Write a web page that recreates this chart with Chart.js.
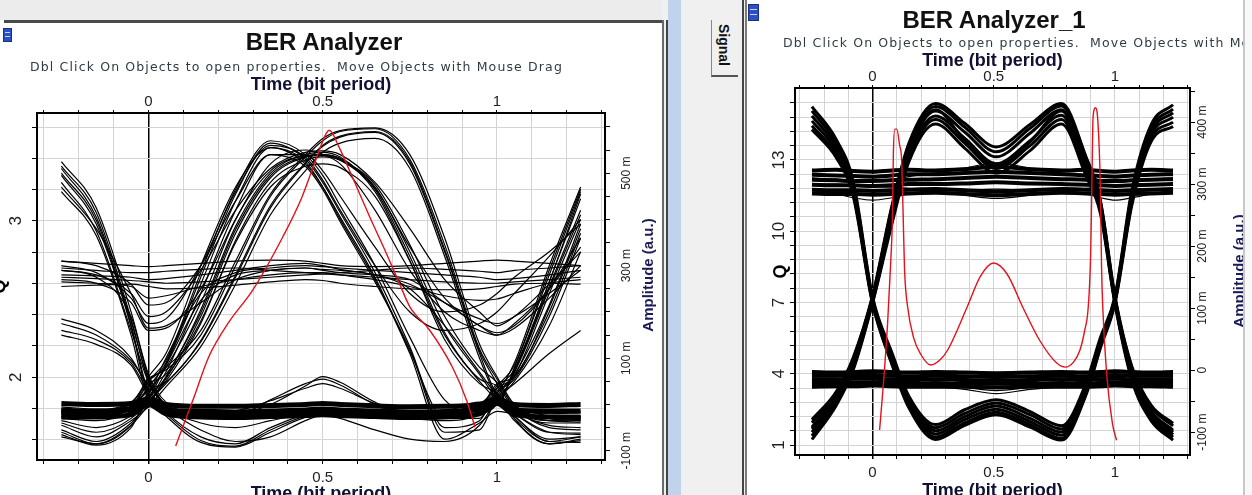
<!DOCTYPE html>
<html>
<head>
<meta charset="utf-8">
<title>BER Analyzer eye diagrams</title>
<script src="https://cdn.jsdelivr.net/npm/chart.js@4.4.1/dist/chart.umd.min.js"></script>
<style>
  html, body { margin: 0; padding: 0; }
  body { width: 1252px; height: 495px; overflow: hidden; position: relative; background: #f0f0f0;
         font-family: "Liberation Sans", Arial, sans-serif; }
  .abs { position: absolute; }
  .panel { position: absolute; top: 0; height: 495px; background: #fff; overflow: hidden; }
  #leftPanel { left: 0; width: 662px; }
  #rightPanel { left: 747px; width: 496px; }
  .title { position: absolute; font-weight: bold; font-size: 24px; line-height: 24px; color: #111;
           white-space: nowrap; transform: translateX(-50%); }
  .sub { position: absolute; font-family: "DejaVu Sans", Verdana, sans-serif; font-size: 12.5px; line-height: 13px;
         letter-spacing: 1.3px; color: #2e3d45; white-space: pre; }
  .vtitle { position: absolute; font-weight: bold; font-size: 15px; color: #1b1b55; white-space: nowrap;
            transform: translate(-50%, -50%) rotate(-90deg); }
  .icon { position: absolute; background: #2c4fc4; border: 1px solid #1a2f80; }
  .icon i { position: absolute; left: 1px; right: 1px; height: 1px; background: #c8d4ff; }
  canvas { position: absolute; top: 0; }
</style>
</head>
<body>
<div class="panel" id="leftPanel">
  <div class="abs" style="left:0;top:0;width:662px;height:20px;background:#ececec"></div>
  <div class="abs" style="left:4px;top:20px;width:658px;height:3px;background:#4a4a4a"></div>
  <div class="icon" style="left:3px;top:28px;width:7px;height:12px"><i style="top:3px"></i><i style="top:7px"></i></div>
  <canvas id="leftEye" width="680" height="520" style="left:-12px"></canvas>
  <div class="title" style="left:324px;top:30px">BER Analyzer</div>
  <div class="sub" style="left:30px;top:60px">Dbl Click On Objects to open properties.  Move Objects with Mouse Drag</div>
  <div class="vtitle" style="left:647px;top:275px">Amplitude (a.u.)</div>
</div>
<div class="abs" style="left:662px;top:20px;width:2px;height:475px;background:#6a6a6a"></div>
<div class="abs" style="left:666px;top:20px;width:2px;height:475px;background:#444"></div>
<div class="abs" style="left:668px;top:0;width:13px;height:495px;background:#bfd4ec"></div>
<div class="abs" style="left:711px;top:20px;width:26px;height:55px;border-left:1px solid #888;border-bottom:2px solid #555"></div>
<div class="abs" style="left:724px;top:45px;font-weight:bold;font-size:14px;color:#111;transform:translate(-50%,-50%) rotate(90deg);white-space:nowrap">Signal</div>
<div class="abs" style="left:742px;top:0;width:2px;height:495px;background:#444"></div>
<div class="abs" style="left:745px;top:0;width:2px;height:495px;background:#7a7a7a"></div>
<div class="panel" id="rightPanel">
  <div class="icon" style="left:1px;top:4px;width:9px;height:15px"><i style="top:4px"></i><i style="top:9px"></i></div>
  <canvas id="rightEye" width="498" height="520" style="left:-2px"></canvas>
  <div class="title" style="left:247px;top:8px">BER Analyzer_1</div>
  <div class="sub" style="left:36px;top:36px">Dbl Click On Objects to open properties.  Move Objects with Mouse Drag</div>
  <div class="vtitle" style="left:491px;top:271px">Amplitude (a.u.)</div>
</div>
<div class="abs" style="left:1243px;top:0;width:2px;height:495px;background:#c8c8c8"></div>
<div class="abs" style="left:1245px;top:0;width:7px;height:495px;background:#f8f8f8"></div>

<script>
// time axis (bit period), shared by both panels
const timeTicks = [-0.3, -0.2, -0.1, 0, 0.1, 0.2, 0.3, 0.4, 0.5, 0.6, 0.7, 0.8, 0.9, 1, 1.1, 1.2, 1.3];
const timeLabels = [0, 0.5, 1];

// ---- left panel: BER Analyzer ----
const leftQTicks = [1.6, 1.8, 2, 2.2, 2.4, 2.6, 2.8, 3, 3.2, 3.4, 3.6];
const leftQLabels = [2, 3];
const leftAmpTicks = [-100, -50, 0, 50, 100, 150, 200, 250, 300, 350, 400, 450, 500, 550, 600];
const leftAmpLabels = [-100, 100, 300, 500];

// sample times of every black trace (amplitude in m a.u.)
const leftTime = [-0.25, -0.15, -0.05, 0, 0.05, 0.15, 0.25, 0.35, 0.45, 0.5, 0.55, 0.65, 0.75, 0.85, 0.95, 1, 1.05, 1.15, 1.24];

// traces that rise out of the crossing into a peak
const leftPeakTraces = [
  [-20, -22, -8, 38, 90, 275, 455, 565, 530, 480, 415, 285, 125, -50, -35, 35, 75, 265, 445],
  [-60, -85, -45, 12, 85, 260, 440, 555, 525, 470, 400, 270, 110, -75, -40, -15, -20, -25, -25],
  [-15, -18, -5, 45, 65, 205, 385, 500, 540, 545, 535, 465, 320, 155, 55, 40, -10, -45, -50],
  [-25, -30, -10, 8, 55, 190, 370, 490, 535, 540, 530, 470, 330, 170, 65, 12, -25, -80, -70],
  [-55, -80, -40, 5, 45, 135, 275, 425, 520, 560, 580, 590, 525, 335, 115, 45, -30, -85, -75],
  [-15, -18, -5, 32, 48, 138, 280, 430, 522, 558, 578, 588, 520, 330, 110, 20, -15, -40, -40],
  [-70, -85, -45, 0, 60, 198, 378, 495, 535, 538, 528, 468, 340, 230, 170, 155, 170, 250, 360],
  [-22, -25, -10, 50, 95, 285, 465, 570, 540, 495, 430, 300, 145, 10, -20, 0, 70, 255, 420],
  [300, 285, 230, 175, 185, 300, 460, 560, 535, 485, 420, 300, 200, 160, 175, 200, 240, 320, 400],
  [290, 280, 240, 190, 200, 290, 420, 510, 545, 548, 540, 480, 380, 270, 200, 170, 190, 260, 330],
  [-8, -12, 2, 55, 75, 150, 300, 450, 535, 570, 590, 596, 530, 345, 120, 55, -5, -35, -38],
  [-30, -35, -15, 15, 58, 180, 350, 470, 515, 520, 512, 450, 310, 150, 50, 10, -20, -60, -62],
  [-18, -20, -6, 60, 110, 300, 470, 555, 520, 470, 405, 275, 115, -30, -30, 20, -10, -30, -28],
  [-40, -60, -30, 10, 70, 240, 420, 540, 515, 465, 395, 265, 120, -60, -55, 5, -20, -60, -65],
  [-12, -15, 0, 30, 80, 220, 400, 505, 538, 540, 532, 460, 310, 140, 45, 25, -15, -35, -32],
  [-35, -50, -25, 5, 50, 175, 355, 480, 528, 535, 528, 475, 345, 190, 80, 48, -5, -50, -55],
  [-5, -10, 5, 50, 80, 160, 310, 455, 540, 575, 592, 598, 540, 360, 130, 60, 0, -30, -35],
  [-45, -70, -35, -5, 38, 125, 260, 410, 505, 545, 565, 575, 510, 320, 100, 15, -25, -75, -70],
  [310, 300, 260, 215, 220, 300, 440, 540, 540, 505, 450, 340, 240, 200, 215, 240, 275, 330, 390],
  [270, 262, 220, 160, 165, 250, 400, 520, 550, 540, 520, 420, 290, 200, 160, 150, 175, 250, 340]
];

// the flatter "one" level
const leftOneTraces = [
  [295, 290, 285, 285, 288, 292, 295, 290, 285, 282, 285, 290, 295, 292, 288, 285, 290, 295, 300],
  [275, 272, 268, 265, 262, 265, 270, 275, 280, 282, 280, 275, 270, 265, 262, 262, 265, 270, 275],
  [310, 305, 300, 298, 300, 305, 310, 312, 310, 305, 300, 298, 300, 305, 310, 312, 310, 305, 300],
  [255, 258, 260, 255, 250, 252, 258, 265, 270, 268, 262, 255, 250, 248, 250, 255, 260, 262, 260],
  [-12, -15, -5, 25, 100, 240, 285, 295, 300, 298, 295, 290, 285, 280, 275, 270, 272, 280, 290],
  [-20, -22, -8, 22, 85, 225, 280, 290, 295, 292, 290, 280, 250, 170, 70, 20, -15, -30, -25],
  [470, 380, 240, 165, 170, 220, 270, 290, 295, 290, 285, 280, 270, 220, 170, 150, 165, 230, 300],
  [280, 278, 275, 270, 272, 280, 290, 300, 305, 300, 292, 280, 260, 220, 185, 175, 190, 240, 290],
  [265, 262, 255, 230, 235, 255, 270, 280, 285, 285, 280, 270, 255, 235, 225, 228, 240, 262, 270]
];

// traces that fall into the crossing at t = 0
const leftFallTraces = [
  [175, 150, 95, 42, -5, -25, -25, -20, -15, -15, -15, -20, -20, -15, 0, 35, 60, 200, 370],
  [150, 130, 85, 20, -20, -78, -90, -55, -25, -20, -20, -20, -20, -15, 5, 5, 75, 265, 455],
  [510, 405, 180, 55, -5, -28, -25, -20, -18, -15, -18, -22, -25, -22, -10, 18, -5, -25, -30],
  [495, 390, 168, 15, -25, -82, -92, -60, -28, -22, -20, -22, -25, -20, -10, 10, -10, -30, -35],
  [480, 375, 160, 48, 0, -25, -22, 0, 40, 60, 48, 5, -20, -22, -5, 30, 55, 190, 360],
  [290, 275, 190, 60, 0, -20, -22, -18, -15, -15, -18, -20, -22, -20, -8, 45, 60, 210, 380],
  [500, 398, 172, 25, -8, -26, -24, -20, -18, -17, -20, -25, -30, -35, -20, 15, -30, -80, -82],
  [515, 415, 185, 50, -2, -25, -22, -18, -15, -14, -16, -20, -22, -18, -5, 0, 80, 280, 460],
  [185, 160, 100, 35, -15, -70, -85, -50, -22, -18, -18, -20, -22, -20, -6, 25, 65, 215, 390],
  [460, 365, 150, 10, -12, -55, -80, -70, -35, -22, -20, -22, -25, -22, -12, 8, -15, -28, -26],
  [525, 425, 200, 65, 5, -18, -20, -18, -15, -14, -16, -20, -22, -18, -4, 40, 85, 290, 465],
  [160, 140, 90, 28, -8, -40, -50, -35, -20, -16, -18, -20, -22, -18, -6, 12, 50, 170, 330]
];

// the "zero" level and its excursions
const leftZeroTraces = [
  [-18, -20, -15, 5, -12, -20, -22, -20, -18, -18, -20, -22, -20, -18, -10, 8, -12, -20, -18],
  [-28, -30, -20, 5, -15, -28, -25, 10, 45, 55, 42, 0, -25, -30, -15, 10, -35, -85, -78],
  [-65, -88, -50, 15, -10, -25, -28, -25, -22, -20, -22, -25, -28, -25, -12, 5, -15, -28, -30],
  [-15, -18, -8, 10, -10, -20, -22, -20, -18, -16, -18, -20, -20, -16, -4, 18, 45, 110, 160],
  [-22, -24, -12, 8, -14, -22, -24, -22, -20, -22, -30, -55, -75, -80, -45, 12, 60, 240, 400],
  [-16, -18, -10, 12, -8, -18, -20, -18, -16, -15, -16, -18, -18, -14, 0, 25, 90, 300, 470],
  [-26, -28, -18, 6, -16, -26, -26, -22, -18, -16, -18, -20, -22, -18, -4, 20, 70, 250, 410],
  [-10, -12, -4, 14, -8, -18, -14, 8, 35, 45, 35, 2, -18, -20, -8, 14, -8, -18, -16]
];

// dense core of the zero band (drawn thick)
const leftZeroBand = [
  [2, 0, 2, 12, 0, -4, -4, -2, 0, 2, 0, -3, -5, -4, 0, 12, 0, -2, 0],
  [-14, -14, -10, 6, -12, -15, -16, -14, -12, -10, -12, -14, -16, -15, -10, 6, -12, -14, -14],
  [-27, -27, -22, 0, -20, -27, -28, -26, -24, -22, -24, -26, -28, -27, -20, 2, -22, -27, -27]
];

// red Q curve
const leftQTime = [0.078, 0.127, 0.173, 0.23, 0.30, 0.386, 0.44, 0.48, 0.51, 0.519, 0.547, 0.585, 0.634, 0.683, 0.72, 0.75, 0.807, 0.873, 0.913, 0.937];
const leftQ = [1.56, 1.85, 2.13, 2.35, 2.56, 2.9, 3.15, 3.39, 3.56, 3.58, 3.47, 3.28, 3.03, 2.79, 2.6, 2.45, 2.3, 2.06, 1.85, 1.68];

// ---- right panel: BER Analyzer_1 ----
const rightQTicks = [1, 1.6, 2.2, 2.8, 3.4, 4, 4.6, 5.2, 5.8, 6.4, 7, 7.6, 8.2, 8.8, 9.4, 10, 10.6, 11.2, 11.8, 12.4, 13, 13.6, 14.2, 14.8, 15.4];
const rightQLabels = [1, 4, 7, 10, 13];
const rightAmpTicks = [-100, -50, 0, 50, 100, 150, 200, 250, 300, 350, 400, 450];
const rightAmpLabels = [-100, 0, 100, 200, 300, 400];

const rightTime = [-0.25, -0.15, -0.08, 0, 0.08, 0.15, 0.26, 0.38, 0.51, 0.65, 0.78, 0.88, 0.94, 1.0, 1.07, 1.15, 1.24];

// rising-then-falling family (M shape)
const rightMTraces = [
  [-85, -38, 18, 118, 262, 362, 425, 392, 352, 390, 426, 342, 272, 118, 4, -60, -90],
  [-92, -42, 13, 115, 255, 355, 418, 384, 344, 382, 420, 335, 268, 115, -1, -66, -97],
  [-100, -48, 8, 112, 247, 347, 410, 374, 333, 370, 411, 326, 262, 112, -8, -73, -104],
  [-106, -52, 4, 110, 242, 342, 404, 366, 325, 362, 404, 320, 258, 110, -12, -78, -108],
  [-112, -57, 0, 108, 236, 336, 397, 358, 318, 354, 397, 314, 253, 108, -16, -82, -113],
  [-95, -44, 12, 114, 252, 352, 420, 370, 330, 368, 418, 332, 266, 114, -3, -68, -100],
  [-80, -35, 20, 120, 265, 366, 430, 398, 360, 396, 430, 345, 274, 120, 6, -57, -86]
];

// falling-then-rising family (W shape)
const rightWTraces = [
  [425, 372, 305, 118, 28, -42, -88, -64, -48, -67, -90, -22, 52, 118, 290, 396, 428],
  [418, 366, 300, 115, 24, -46, -93, -70, -53, -72, -95, -26, 48, 115, 285, 390, 421],
  [410, 360, 295, 113, 20, -50, -98, -75, -58, -78, -100, -30, 45, 113, 280, 385, 415],
  [402, 354, 290, 111, 16, -54, -103, -80, -63, -83, -105, -34, 42, 111, 275, 380, 408],
  [394, 348, 285, 109, 12, -58, -108, -85, -68, -88, -110, -38, 38, 109, 270, 374, 400],
  [388, 343, 281, 107, 9, -61, -112, -89, -72, -92, -113, -41, 35, 107, 266, 369, 393]
];

// flat "one" band (thick) and its thin outliers
const rightOneBand = [
  [322, 323, 321, 320, 322, 323, 322, 324, 328, 324, 322, 323, 321, 320, 322, 323, 322],
  [315, 314, 313, 312, 314, 316, 316, 318, 320, 318, 316, 314, 313, 312, 314, 315, 316],
  [307, 306, 305, 305, 306, 307, 308, 310, 312, 310, 308, 307, 305, 305, 306, 307, 308],
  [299, 298, 298, 297, 298, 300, 300, 301, 303, 301, 300, 299, 298, 297, 298, 299, 300],
  [291, 290, 290, 289, 290, 291, 292, 290, 288, 290, 292, 291, 290, 289, 290, 291, 292],
  [285, 284, 284, 283, 284, 285, 286, 284, 282, 284, 286, 285, 284, 283, 284, 285, 286]
];
const rightOneThin = [
  [310, 308, 306, 305, 308, 312, 318, 326, 334, 326, 318, 312, 307, 305, 306, 308, 310],
  [300, 300, 298, 296, 295, 293, 288, 282, 277, 282, 288, 293, 296, 297, 298, 300, 300],
  [290, 284, 278, 274, 278, 284, 288, 290, 292, 290, 288, 284, 278, 274, 278, 284, 290]
];

// flat "zero" band (thick) and its thin outliers
const rightZeroBand = [
  [-3, -4, -3, -2, -3, -4, -3, -4, -5, -4, -3, -4, -3, -2, -3, -4, -3],
  [-9, -9, -8, -8, -9, -10, -9, -10, -11, -10, -9, -10, -9, -8, -9, -9, -9],
  [-15, -15, -14, -14, -15, -16, -15, -16, -17, -16, -15, -16, -15, -14, -15, -15, -15],
  [-21, -21, -20, -20, -21, -22, -21, -22, -22, -22, -21, -22, -21, -20, -21, -21, -21],
  [-27, -26, -26, -25, -26, -27, -27, -27, -28, -27, -27, -27, -26, -25, -26, -26, -27]
];
const rightZeroThin = [
  [-24, -24, -23, -22, -23, -25, -27, -31, -38, -31, -27, -25, -23, -22, -23, -24, -24],
  [-20, -20, -19, -18, -19, -22, -25, -28, -33, -28, -25, -22, -19, -18, -19, -20, -20]
];

// red Q curve
const rightQTime = [0.029, 0.045, 0.062, 0.074, 0.082, 0.086, 0.092, 0.1, 0.112, 0.12, 0.126, 0.132, 0.145, 0.17, 0.2, 0.24, 0.28, 0.31, 0.39, 0.445, 0.5, 0.555, 0.62, 0.69, 0.76, 0.795, 0.83, 0.856, 0.875, 0.89, 0.9, 0.905, 0.91, 0.92, 0.93, 0.94, 0.945, 0.95, 0.966, 0.99, 1.007];
const rightQ = [1.63, 3.6, 6.1, 8.5, 10.6, 13.3, 14.3, 14.3, 13.6, 13.0, 10.8, 8.4, 6.8, 5.5, 4.8, 4.37, 4.6, 5.0, 6.8, 8.1, 8.66, 8.2, 6.8, 5.4, 4.45, 4.28, 4.5, 5.0, 5.8, 6.8, 9.0, 11.9, 14.8, 15.2, 14.6, 11.9, 8.5, 6.8, 4.0, 1.9, 1.2];

// stretch the hint line to the width it has in the screenshot
(function fitSubtitles() {
  const subs = document.querySelectorAll('.sub');
  const text = subs[0].textContent;
  const m = document.createElement('canvas').getContext('2d');
  m.font = '12.5px "DejaVu Sans"';
  const spacing = (533 - m.measureText(text).width) / text.length;
  subs.forEach(s => { s.style.letterSpacing = spacing.toFixed(2) + 'px'; });
})();

Chart.defaults.font.family = '"Liberation Sans", Arial, sans-serif';

const GRID = '#d4d4d4';

function fixedTicks(values) {
  return scale => { scale.ticks = values.map(v => ({ value: v })); };
}
function labelIf(labels, fmt) {
  return value => labels.includes(value) ? fmt(value) : '';
}
const ampText = v => v === 0 ? '0' : v + ' m';

function traces(times, list, width) {
  return list.map(vals => ({
    data: vals.map((v, i) => ({ x: times[i], y: v })),
    borderColor: '#000',
    borderWidth: width,
    pointRadius: 0,
    cubicInterpolationMode: 'monotone',
    yAxisID: 'y2',
    order: 2
  }));
}
function qLine(times, vals) {
  return {
    data: vals.map((v, i) => ({ x: times[i], y: v })),
    borderColor: '#e3121c',
    borderWidth: 1.4,
    pointRadius: 0,
    cubicInterpolationMode: 'monotone',
    yAxisID: 'y',
    order: 0
  };
}

function eyeChart(id, datasets, o) {
  const border = { display: true, color: '#000', width: 2 };
  const timeTitle = (pad) => ({
    display: true, text: 'Time (bit period)', color: '#111133',
    font: { size: 18, weight: 'bold' }, padding: pad
  });
  return new Chart(document.getElementById(id), {
    type: 'line',
    data: { datasets },
    options: {
      responsive: false,
      animation: false,
      events: [],
      devicePixelRatio: 1,
      layout: { padding: o.padding },
      plugins: { legend: { display: false }, tooltip: { enabled: false } },
      scales: {
        x: {
          type: 'linear', position: 'bottom', min: -0.32, max: 1.31,
          afterBuildTicks: fixedTicks(timeTicks),
          afterFit: s => { s.height = o.xHeight; },
          ticks: { callback: labelIf(timeLabels, String), autoSkip: false, maxRotation: 0,
                   padding: 4.5, color: '#222', font: { size: 15 } },
          grid: {
            color: c => (c.tick && c.tick.value === 0) ? '#000' : GRID,
            lineWidth: c => (c.tick && c.tick.value === 0) ? 1.5 : 1,
            tickColor: '#000', tickLength: 4
          },
          border,
          title: timeTitle({ top: 0, bottom: o.xTitlePad })
        },
        x2: {
          type: 'linear', position: 'top', min: -0.32, max: 1.31,
          afterBuildTicks: fixedTicks(timeTicks),
          afterFit: s => { s.height = o.x2Height; },
          ticks: { callback: labelIf(timeLabels, String), autoSkip: false, maxRotation: 0,
                   padding: -1, color: '#222', font: { size: 15 } },
          grid: { drawOnChartArea: false, tickColor: '#000', tickLength: 3 },
          border,
          title: timeTitle({ top: 0, bottom: 0 })
        },
        y: {
          type: 'linear', position: 'left', min: o.qMin, max: o.qMax,
          afterBuildTicks: fixedTicks(o.qTicks),
          afterFit: s => { s.width = o.yWidth; },
          ticks: { callback: labelIf(o.qLabels, String), autoSkip: false, minRotation: 90, maxRotation: 90,
                   crossAlign: 'center', padding: o.yPad, color: '#222', font: { size: 17 } },
          grid: { color: GRID, tickColor: '#000', tickLength: 5 },
          border,
          title: { display: true, text: 'Q', color: '#000', font: { size: 18, weight: 'bold' },
                   padding: { top: 1, bottom: 0 } }
        },
        y2: {
          type: 'linear', position: 'right', min: o.ampMin, max: o.ampMax,
          afterBuildTicks: fixedTicks(o.ampTicks),
          afterFit: s => { s.width = o.y2Width; },
          ticks: { callback: labelIf(o.ampLabels, ampText), autoSkip: false, minRotation: 90, maxRotation: 90,
                   crossAlign: 'center', padding: o.y2Pad, color: '#222', font: { size: 12 } },
          grid: { drawOnChartArea: false, tickColor: '#000', tickLength: 5 },
          border
        }
      }
    }
  });
}

eyeChart('leftEye', [
  qLine(leftQTime, leftQ),
  ...traces(leftTime, leftPeakTraces, 1.2),
  ...traces(leftTime, leftOneTraces, 1.2),
  ...traces(leftTime, leftFallTraces, 1.2),
  ...traces(leftTime, leftZeroTraces, 1.2),
  ...traces(leftTime, leftZeroBand, 5)
], {
  padding: { left: 0, right: 0, top: 74, bottom: 0 },
  xHeight: 60, x2Height: 39, yWidth: 49, y2Width: 63,
  xTitlePad: 15, yPad: 11, y2Pad: -1.7,
  qMin: 1.47, qMax: 3.69, qTicks: leftQTicks, qLabels: leftQLabels,
  ampMin: -120, ampMax: 630, ampTicks: leftAmpTicks, ampLabels: leftAmpLabels
});

eyeChart('rightEye', [
  qLine(rightQTime, rightQ),
  ...traces(rightTime, rightMTraces, 3),
  ...traces(rightTime, rightWTraces, 3),
  ...traces(rightTime, rightOneBand, 4),
  ...traces(rightTime, rightOneThin, 1.2),
  ...traces(rightTime, rightZeroBand, 4),
  ...traces(rightTime, rightZeroThin, 1.2)
], {
  padding: { left: 24, right: 0, top: 50, bottom: 0 },
  xHeight: 65, x2Height: 38, yWidth: 26, y2Width: 53,
  xTitlePad: 18, yPad: 1.5, y2Pad: -11,
  qMin: 0.58, qMax: 16.03, qTicks: rightQTicks, qLabels: rightQLabels,
  ampMin: -137, ampMax: 455, ampTicks: rightAmpTicks, ampLabels: rightAmpLabels
});
</script>
</body>
</html>
